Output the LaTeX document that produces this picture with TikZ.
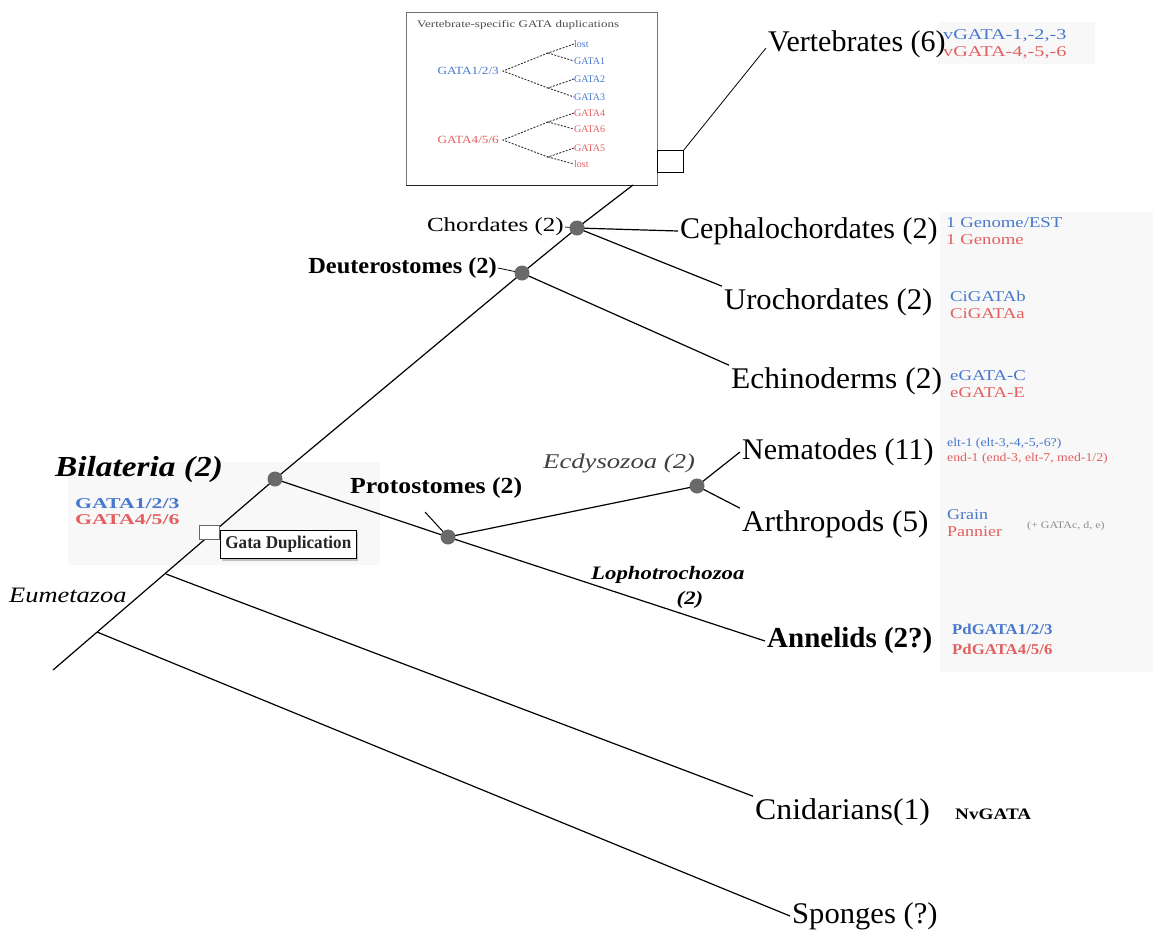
\documentclass[tikz,border=0pt]{standalone}
\usepackage{fontspec}
\usepackage{graphicx}
\setmainfont{Liberation Serif}
\usetikzlibrary{shadows,calc}

\definecolor{gblue}{RGB}{70,120,205}
\definecolor{gred}{RGB}{228,95,95}
\definecolor{cladegray}{RGB}{105,105,105}
\definecolor{panelgray}{RGB}{248,248,248}

% horizontal stretch of a text
\newcommand\hstretch[2]{\scalebox{#1}[1]{#2}}
% two stacked gene names, blue over red
\newcommand\genepair[3]{\hstretch{#1}{\textcolor{gblue}{#2}}\\\hstretch{#1}{\textcolor{gred}{#3}}}

\begin{document}
\begin{tikzpicture}[x=1pt,y=-1pt,
  branch/.style={line width=1.2pt, black},
  dashbranch/.style={line width=0.9pt, black!80, dash pattern=on 2pt off 1.4pt},
  clade/.style={circle, fill=cladegray, inner sep=0pt, minimum size=15pt},
  taxon/.style={anchor=west, inner sep=2pt, font=\fontsize{30}{32}\selectfont},
  gene/.style={anchor=west, inner sep=0pt, align=left, font=\fontsize{15}{17}\selectfont},
  tiny/.style={anchor=west, inner sep=0pt, font=\fontsize{10}{11}\selectfont},
  cladelabel/.style={inner sep=1pt},
]
\useasboundingbox (0,0) rectangle (1153,935);

% faint panels behind the gene columns
\fill[panelgray] (940,212) rectangle (1153,672);
\fill[panelgray] (68,462) rectangle (380,565);
\fill[panelgray] (938,22) rectangle (1095,64);

% ---------- inset: vertebrate-specific duplications ----------
\node[draw=black!55, line width=0.7pt, minimum width=251pt, minimum height=173pt,
      anchor=north west, inner sep=0pt] (vbox) at (406,12) {};
\draw[black!85, line width=1.1pt] (vbox.south west) -- (vbox.south east);
\node[anchor=west, inner sep=0pt, font=\fontsize{10}{11}\selectfont, text=black!70]
  (vtitle) at (417,25) {\hstretch{1.3}{Vertebrate-specific GATA duplications}};

\node[anchor=east, inner sep=1pt, font=\fontsize{11}{12}\selectfont, text=gblue]
  (a123) at (500,71) {\hstretch{1.2}{GATA1/2/3}};
\coordinate (a0) at (503,71);
\coordinate (a1) at (548,53);
\coordinate (a2) at (548,88);
\node[tiny, text=gblue] (t1) at (574,44) {lost};
\node[tiny, text=gblue] (t2) at (574,61) {GATA1};
\node[tiny, text=gblue] (t3) at (574,79) {GATA2};
\node[tiny, text=gblue] (t4) at (574,97) {GATA3};
\draw[dashbranch] (t1.west) -- (a1) -- (t2.west);
\draw[dashbranch] (t3.west) -- (a2) -- (t4.west);
\draw[dashbranch] (a1) -- (a0) -- (a2);

\node[anchor=east, inner sep=1pt, font=\fontsize{11}{12}\selectfont, text=gred]
  (a456) at (500,140) {\hstretch{1.2}{GATA4/5/6}};
\coordinate (b0) at (503,140);
\coordinate (b1) at (548,122);
\coordinate (b2) at (548,157);
\node[tiny, text=gred] (u1) at (574,113) {GATA4};
\node[tiny, text=gred] (u2) at (574,129) {GATA6};
\node[tiny, text=gred] (u3) at (574,148) {GATA5};
\node[tiny, text=gred] (u4) at (574,164) {lost};
\draw[dashbranch] (u1.west) -- (b1) -- (u2.west);
\draw[dashbranch] (u3.west) -- (b2) -- (u4.west);
\draw[dashbranch] (b1) -- (b0) -- (b2);

% bracket tying the inset to the vertebrate tip
\node[draw=black, line width=0.8pt, minimum width=26pt, minimum height=22pt,
      anchor=north west, inner sep=0pt] (vsq) at (657,150) {};

% ---------- tree skeleton ----------
\coordinate (root) at (53,670);
\coordinate (sp)   at (97,632);
\coordinate (cn)   at (166,574);
\coordinate (bil)  at (275,479);
\coordinate (deu)  at (522,273);
\coordinate (cho)  at (577,228);
\coordinate (boxb) at (633,185);
\coordinate (pro)  at (448,537);
\coordinate (ecd)  at (697,486);

% taxa
\node[taxon] (vert) at (766,44) {Vertebrates (6)};
\node[taxon] (ceph) at (678,231) {Cephalochordates (2)};
\node[taxon] (uro)  at (722,302) {\hstretch{1.02}{Urochordates (2)}};
\node[taxon] (ech)  at (729,381) {\hstretch{1.05}{Echinoderms (2)}};
\node[taxon] (nem)  at (740,452) {Nematodes (11)};
\node[taxon] (art)  at (740,524) {\hstretch{1.04}{Arthropods (5)}};
\node[taxon, font=\fontsize{29}{32}\selectfont\bfseries] (ann) at (765,641) {Annelids (2?)};
\node[taxon] (cni)  at (753,812) {\hstretch{1.06}{Cnidarians(1)}};
\node[taxon] (spo)  at (790,916) {\hstretch{1.02}{Sponges (?)}};

\draw[branch] (root) -- (bil) -- (deu) -- (cho) -- (boxb);
\draw[branch] (cho) -- (ceph.west);
\draw[branch] (cho) -- (uro.north west);
\draw[branch] (deu) -- (ech.north west);
\draw[branch] (bil) -- (pro) -- (ann.west);
\draw[branch] (pro) -- (ecd);
\draw[branch] (ecd) -- (nem.west);
\draw[branch] (ecd) -- (art.north west);
\draw[branch] (cn) -- (cni.north west);
\draw[branch] (sp) -- (spo.west);
\draw[line width=0.8pt] (vsq.north east) -- ($(vert.west)+(0,4)$);

% gene copies per taxon
\node[gene] (gvert) at (943,44) {\genepair{1.35}{vGATA-1,-2,-3}{vGATA-4,-5,-6}};
\node[gene] (gceph) at (946,231) {\genepair{1.25}{1 Genome/EST}{1 Genome}};
\node[gene] (guro)  at (950,305) {\genepair{1.25}{CiGATAb}{CiGATAa}};
\node[gene] (gech)  at (950,384) {\genepair{1.25}{eGATA-C}{eGATA-E}};
\node[gene, font=\fontsize{12}{15}\selectfont] (gnem) at (947,451)
  {\genepair{1.15}{elt-1 (elt-3,-4,-5,-6?)}{end-1 (end-3, elt-7, med-1/2)}};
\node[gene] (gart)  at (947,523) {\genepair{1.2}{Grain}{Pannier}};
\node[tiny, text=black!45] (gartx) at (1027,526) {\hstretch{1.2}{(+ GATAc, d, e)}};
\node[gene, font=\fontsize{15}{20}\selectfont\bfseries] (gann) at (952,639)
  {\genepair{1.12}{PdGATA1/2/3}{PdGATA4/5/6}};
\node[anchor=west, inner sep=0pt, font=\fontsize{16}{17}\selectfont\bfseries] (gcni) at (955,814)
  {\hstretch{1.2}{NvGATA}};

% ---------- clade labels ----------
\node[anchor=east, cladelabel, font=\fontsize{20}{22}\selectfont] (lcho) at (565,227)
  {\hstretch{1.25}{Chordates (2)}};
\draw[line width=0.7pt] (lcho.east) -- (cho);
\node[anchor=east, cladelabel, font=\fontsize{23}{25}\selectfont\bfseries] (ldeu) at (498,268)
  {\hstretch{1.06}{Deuterostomes (2)}};
\draw[line width=0.8pt] (ldeu.east) -- (deu);
\node[anchor=west, cladelabel, font=\fontsize{23}{25}\selectfont\bfseries] (lpro) at (349,488)
  {\hstretch{1.12}{Protostomes (2)}};
\coordinate (protick) at (425,512);
\draw[line width=1pt] (protick) -- (pro);
\node[anchor=west, cladelabel, font=\fontsize{21}{23}\selectfont\itshape, text=black!75] (lecd) at (542,463)
  {\hstretch{1.27}{Ecdysozoa (2)}};
\node[anchor=west, cladelabel, font=\fontsize{19}{21}\selectfont\bfseries\itshape] (llop) at (590,575)
  {\hstretch{1.2}{Lophotrochozoa}};
\node[cladelabel, font=\fontsize{19}{21}\selectfont\bfseries\itshape] (llop2) at (690,600)
  {\hstretch{1.2}{(2)}};
\node[anchor=west, cladelabel, font=\fontsize{22}{24}\selectfont\itshape] (leum) at (8,595)
  {\hstretch{1.2}{Eumetazoa}};

% Bilateria and its two ancestral genes
\node[anchor=west, inner sep=0pt, font=\fontsize{29}{31}\selectfont\bfseries\itshape] (lbil) at (55,470)
  {\hstretch{1.15}{Bilateria (2)}};
\node[anchor=west, inner sep=0pt, align=left, font=\fontsize{15}{16}\selectfont\bfseries] (gbil) at (75,512)
  {\hstretch{1.45}{\textcolor{gblue}{GATA1/2/3}}\\\hstretch{1.45}{\textcolor{gred}{GATA4/5/6}}};

% duplication event marker
\node[draw=black!60, fill=white, line width=0.7pt, minimum width=20pt, minimum height=14pt,
      inner sep=0pt, anchor=north west] (dupsq) at (199,525) {};
\node[draw=black, fill=white, line width=0.8pt, anchor=north west, inner xsep=5pt, inner ysep=6pt,
      drop shadow={shadow xshift=2pt, shadow yshift=-2pt, opacity=0.45},
      font=\fontsize{18}{20}\selectfont\bfseries, text=black!85] (dup) at (220,530)
  {\hstretch{0.95}{Gata Duplication}};

% clade nodes on top
\foreach \c in {bil,deu,cho,pro,ecd}
  \node[clade] (\c-dot) at (\c) {};
\end{tikzpicture}
\end{document}
